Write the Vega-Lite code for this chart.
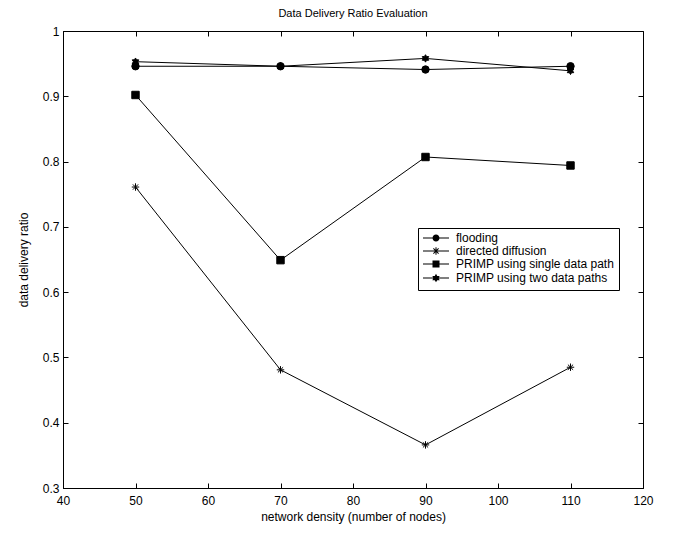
{
  "$schema": "https://vega.github.io/schema/vega-lite/v6.json",
  "width": 580,
  "height": 457,
  "autosize": "none",
  "padding": {"left": 63, "top": 31, "right": 31, "bottom": 45},
  "background": "white",
  "title": {"text": "Data Delivery Ratio Evaluation", "fontSize": 11, "fontWeight": "normal", "font": "Liberation Sans", "color": "black", "offset": 6, "anchor": "middle"},
  "config": {
    "view": {"stroke": "black", "strokeWidth": 1},
    "axis": {"grid": false, "domainColor": "black", "tickColor": "black", "labelColor": "black", "titleColor": "black", "labelFont": "Liberation Sans", "titleFont": "Liberation Sans", "labelFontSize": 12, "titleFontSize": 12, "titleFontWeight": "normal", "tickSize": -5, "tickWidth": 1}
  },
  "data": {"values": [
    {"n": 50, "series": "flooding", "ratio": 0.946},
    {"n": 70, "series": "flooding", "ratio": 0.946},
    {"n": 90, "series": "flooding", "ratio": 0.941},
    {"n": 110, "series": "flooding", "ratio": 0.946},
    {"n": 50, "series": "directed diffusion", "ratio": 0.761},
    {"n": 70, "series": "directed diffusion", "ratio": 0.481},
    {"n": 90, "series": "directed diffusion", "ratio": 0.366},
    {"n": 110, "series": "directed diffusion", "ratio": 0.485},
    {"n": 50, "series": "PRIMP using single data path", "ratio": 0.902},
    {"n": 70, "series": "PRIMP using single data path", "ratio": 0.649},
    {"n": 90, "series": "PRIMP using single data path", "ratio": 0.807},
    {"n": 110, "series": "PRIMP using single data path", "ratio": 0.794},
    {"n": 50, "series": "PRIMP using two data paths", "ratio": 0.953},
    {"n": 70, "series": "PRIMP using two data paths", "ratio": 0.946},
    {"n": 90, "series": "PRIMP using two data paths", "ratio": 0.958},
    {"n": 110, "series": "PRIMP using two data paths", "ratio": 0.939}
  ]},
  "layer": [
    {
      "mark": {"type": "line", "color": "black", "strokeWidth": 1},
      "encoding": {
        "x": {"field": "n", "type": "quantitative", "scale": {"domain": [40, 120], "nice": false, "zero": false},
              "axis": {"orient": "bottom", "values": [40, 50, 60, 70, 80, 90, 100, 110, 120], "title": "network density (number of nodes)", "labelPadding": 12, "titlePadding": 5, "labelFlush": false}},
        "y": {"field": "ratio", "type": "quantitative", "scale": {"domain": [0.3, 1], "nice": false, "zero": false},
              "axis": {"orient": "left", "values": [0.3, 0.4, 0.5, 0.6, 0.7, 0.8, 0.9, 1], "format": "~g", "title": "data delivery ratio", "labelPadding": 9, "titlePadding": 12, "labelFlush": false}},
        "detail": {"field": "series"}
      }
    },
    {
      "mark": {"type": "point", "filled": true, "color": "black", "stroke": "black", "strokeWidth": 1, "opacity": 1, "size": 55},
      "encoding": {
        "x": {"field": "n", "type": "quantitative", "axis": {"orient": "top", "values": [40, 50, 60, 70, 80, 90, 100, 110, 120], "labels": false, "title": null, "domain": false}},
        "y": {"field": "ratio", "type": "quantitative", "axis": {"orient": "right", "values": [0.3, 0.4, 0.5, 0.6, 0.7, 0.8, 0.9, 1], "labels": false, "title": null, "domain": false}},
        "shape": {"field": "series", "type": "nominal", "legend": null,
          "scale": {"domain": ["flooding", "directed diffusion", "PRIMP using single data path", "PRIMP using two data paths"],
                    "range": ["circle", "M-1,0H1M0,-1V1M-0.7,-0.7L0.7,0.7M-0.7,0.7L0.7,-0.7", "square", "M0,-1L0.289,-0.5L0.866,-0.5L0.577,0L0.866,0.5L0.289,0.5L0,1L-0.289,0.5L-0.866,0.5L-0.577,0L-0.866,-0.5L-0.289,-0.5Z"]}
        }
      }
    },
    {
      "mark": {"type": "point", "filled": true, "color": "black", "opacity": 1, "size": 0},
      "encoding": {
        "x": {"field": "n", "type": "quantitative", "axis": null},
        "y": {"field": "ratio", "type": "quantitative", "axis": null},
        "shape": {"field": "series", "type": "nominal",
          "scale": {"domain": ["flooding", "directed diffusion", "PRIMP using single data path", "PRIMP using two data paths"],
                    "range": [
                      "M-2.6,-0.1H2.6V0.1H-2.6ZM-0.7,0A0.7,0.7 0 1,1 0.7,0A0.7,0.7 0 1,1 -0.7,0Z",
                      "M-2.6,-0.1H2.6V0.1H-2.6ZM-0.1,-0.75H0.1V0.75H-0.1ZM-0.45,-0.59L0.59,0.45L0.45,0.59L-0.59,-0.45ZM-0.59,0.45L0.45,-0.59L0.59,-0.45L-0.45,0.59Z",
                      "M-2.6,-0.1H2.6V0.1H-2.6ZM-0.7,-0.7H0.7V0.7H-0.7Z",
                      "M-2.6,-0.1H2.6V0.1H-2.6ZM0,-0.85L0.245,-0.425L0.736,-0.425L0.49,0L0.736,0.425L0.245,0.425L0,0.85L-0.245,0.425L-0.736,0.425L-0.49,0L-0.736,-0.425L-0.245,-0.425Z"
                    ]},
          "legend": {
            "title": null, "orient": "none", "legendX": 355, "legendY": 197,
            "strokeColor": "black", "fillColor": "white", "padding": 4,
            "labelFont": "Liberation Sans", "labelFontSize": 12, "labelColor": "black",
            "symbolSize": 100, "symbolOffset": 8, "labelOffset": 14, "rowPadding": -1,
            "symbolFillColor": "black", "symbolOpacity": 1
          }
        }
      }
    }
  ],
  "resolve": {"axis": {"x": "independent", "y": "independent"}, "scale": {"shape": "independent"}}
}
